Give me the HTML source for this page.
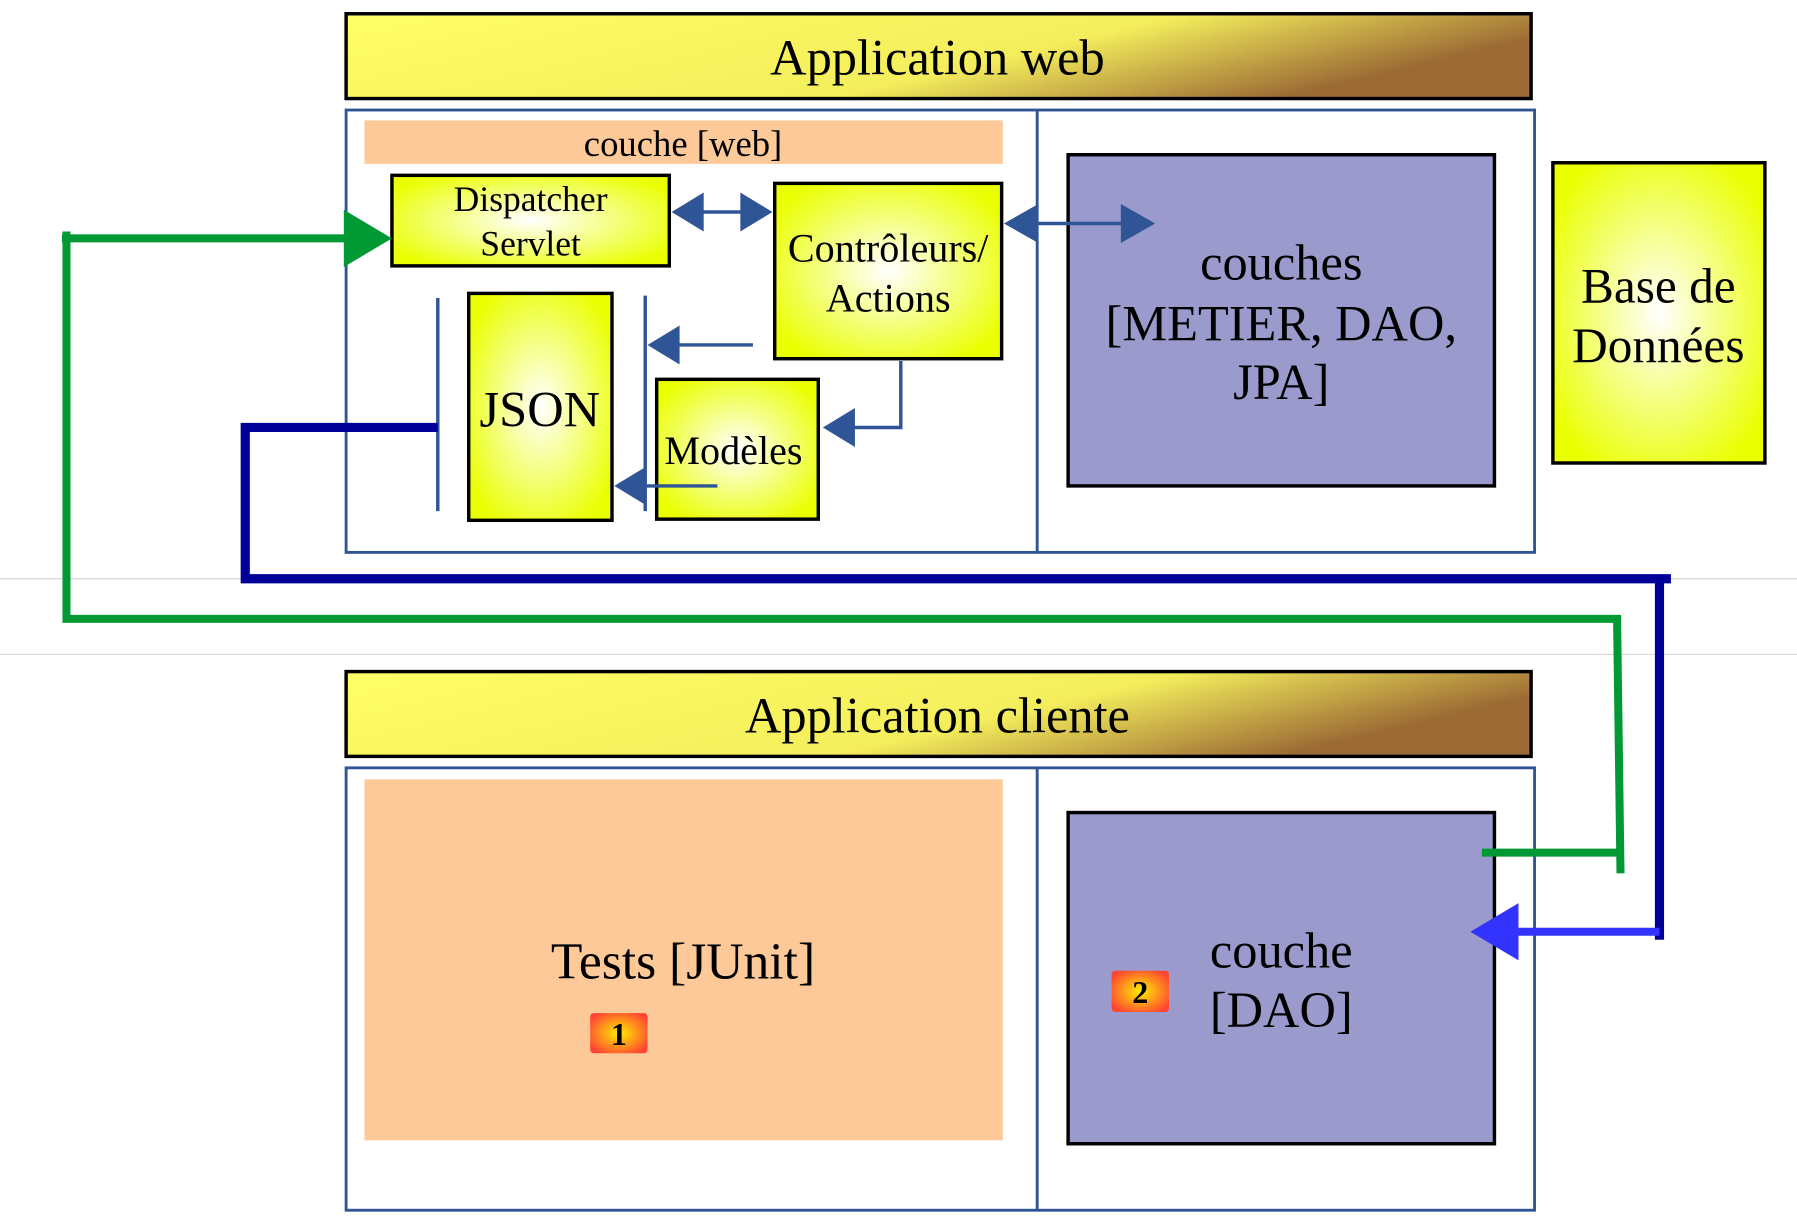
<!DOCTYPE html>
<html><head><meta charset="utf-8"><style>
html,body{margin:0;padding:0;background:#fff;}
svg{display:block;}
text{font-family:"Liberation Serif",serif;fill:#000;}
</style></head><body>
<svg width="1797" height="1232" viewBox="0 0 1568 1075" preserveAspectRatio="none" xmlns="http://www.w3.org/2000/svg">
<defs>
<linearGradient id="tb" x1="0" x2="1" y1="0" y2="0.3">
<stop offset="0" stop-color="#ffff66"/><stop offset="0.65" stop-color="#f4ee5c"/><stop offset="1" stop-color="#9c6a34"/></linearGradient>
<radialGradient id="yb" cx="0.5" cy="0.5" r="0.6">
<stop offset="0" stop-color="#ffffff"/><stop offset="1" stop-color="#eaff00"/></radialGradient>
<radialGradient id="bd" cx="0.5" cy="0.5" r="0.6">
<stop offset="0" stop-color="#ffee00"/><stop offset="1" stop-color="#ff4433"/></radialGradient>
</defs>
<line x1="0" y1="505" x2="1568" y2="505" stroke="#d8d8d8" stroke-width="1"/>
<line x1="0" y1="571" x2="1568" y2="571" stroke="#d8d8d8" stroke-width="1"/>

<rect x="302" y="12" width="1034" height="74" fill="url(#tb)" stroke="#000" stroke-width="3"/>
<text x="818" y="65" font-size="44" text-anchor="middle">Application web</text>
<rect x="302" y="96" width="1037" height="386" fill="#fff" stroke="#2f5597" stroke-width="2.5"/>
<line x1="905" y1="96" x2="905" y2="482" stroke="#2f5597" stroke-width="2.5"/>
<rect x="318" y="105" width="557" height="38" fill="#fdc998"/>
<text x="596" y="136" font-size="32" text-anchor="middle">couche [web]</text>

<rect x="342" y="153" width="242" height="79" fill="url(#yb)" stroke="#000" stroke-width="3"/>
<text x="463" y="184" font-size="31" text-anchor="middle">Dispatcher</text>
<text x="463" y="223" font-size="31" text-anchor="middle">Servlet</text>
<rect x="676" y="160" width="198" height="153" fill="url(#yb)" stroke="#000" stroke-width="3"/>
<text x="775" y="228" font-size="35" text-anchor="middle">Contrôleurs/</text>
<text x="775" y="272" font-size="35" text-anchor="middle">Actions</text>
<rect x="932" y="135" width="372" height="289" fill="#9a9acc" stroke="#000" stroke-width="3"/>
<text x="1118" y="244" font-size="44" text-anchor="middle">couches</text>
<text x="1118" y="297" font-size="44" text-anchor="middle">[METIER, DAO,</text>
<text x="1118" y="348" font-size="44" text-anchor="middle">JPA]</text>
<rect x="1355" y="142" width="185" height="262" fill="url(#yb)" stroke="#000" stroke-width="3"/>
<text x="1447" y="264" font-size="43" text-anchor="middle">Base de</text>
<text x="1447" y="316" font-size="43" text-anchor="middle">Données</text>
<rect x="409" y="256" width="125" height="198" fill="url(#yb)" stroke="#000" stroke-width="3"/>
<text x="471" y="372" font-size="44" text-anchor="middle">JSON</text>
<rect x="573" y="331" width="141" height="122" fill="url(#yb)" stroke="#000" stroke-width="3"/>
<text x="640" y="405" font-size="35" text-anchor="middle">Modèles</text>

<g stroke="#2f5597" stroke-width="3" fill="none">
<line x1="382" y1="260" x2="382" y2="446"/>
<line x1="563" y1="258" x2="563" y2="446"/>
<line x1="610" y1="185" x2="650" y2="185"/>
<line x1="900" y1="195" x2="985" y2="195"/>
<line x1="590" y1="301" x2="657" y2="301"/>
<polyline points="786,315 786,373 742,373"/>
<line x1="560" y1="424" x2="626" y2="424"/>
</g>
<g fill="#2f5597">
<polygon points="586,185 614,168 614,202"/>
<polygon points="674,185 646,168 646,202"/>
<polygon points="876,195 906,178 906,212"/>
<polygon points="1008,195 978,178 978,212"/>
<polygon points="565,301 593,284 593,318"/>
<polygon points="718,373 746,356 746,390"/>
<polygon points="536,424 564,407 564,441"/>
</g>

<rect x="302" y="586" width="1034" height="74" fill="url(#tb)" stroke="#000" stroke-width="3"/>
<text x="818" y="639" font-size="44" text-anchor="middle">Application cliente</text>
<rect x="302" y="670" width="1037" height="386" fill="#fff" stroke="#2f5597" stroke-width="2.5"/>
<line x1="905" y1="670" x2="905" y2="1056" stroke="#2f5597" stroke-width="2.5"/>
<rect x="318" y="680" width="557" height="315" fill="#fdc998"/>
<text x="596" y="854" font-size="45" text-anchor="middle">Tests [JUnit]</text>
<rect x="515" y="884" width="50" height="35" rx="3" fill="url(#bd)"/>
<text x="540" y="912" font-size="28" font-weight="bold" text-anchor="middle">1</text>
<rect x="932" y="709" width="372" height="289" fill="#9a9acc" stroke="#000" stroke-width="3"/>
<text x="1118" y="844" font-size="44" text-anchor="middle">couche</text>
<text x="1118" y="896" font-size="44" text-anchor="middle">[DAO]</text>
<rect x="970" y="847" width="50" height="36" rx="3" fill="url(#bd)"/>
<text x="995" y="875" font-size="28" font-weight="bold" text-anchor="middle">2</text>

<polyline points="382,373 214,373 214,505 1458,505" fill="none" stroke="#000099" stroke-width="8"/>
<polyline points="1448,505 1448,820" fill="none" stroke="#000099" stroke-width="8"/>
<line x1="1448" y1="813" x2="1318" y2="813" stroke="#3333ff" stroke-width="7"/>
<polygon points="1283,813 1325,788 1325,838" fill="#3333ff"/>

<polyline points="1293,744 1413,744" fill="none" stroke="#009933" stroke-width="7"/>
<polyline points="1414,762 1411,540 58,540 58,202" fill="none" stroke="#009933" stroke-width="7"/>
<line x1="54" y1="208" x2="305" y2="208" stroke="#009933" stroke-width="7"/>
<polygon points="342,208 300,183 300,233" fill="#009933"/>
</svg>
</body></html>
